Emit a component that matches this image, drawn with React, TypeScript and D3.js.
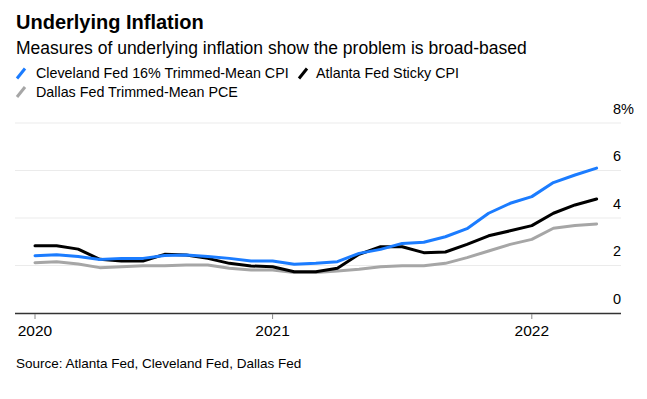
import React from "react";
import * as d3 from "d3";

const months = [
  "2020-02", "2020-03", "2020-04", "2020-05", "2020-06", "2020-07", "2020-08", "2020-09", "2020-10", "2020-11", "2020-12",
  "2021-01", "2021-02", "2021-03", "2021-04", "2021-05", "2021-06", "2021-07", "2021-08", "2021-09", "2021-10", "2021-11", "2021-12",
  "2022-01", "2022-02", "2022-03", "2022-04",
];

const cleveland = [2.41, 2.45, 2.38, 2.25, 2.3, 2.3, 2.42, 2.44, 2.38, 2.3, 2.19, 2.19, 2.05, 2.09, 2.16, 2.51, 2.68, 2.93, 2.98, 3.21, 3.55, 4.2, 4.62, 4.9, 5.49, 5.81, 6.1];
const atlanta = [2.83, 2.83, 2.69, 2.26, 2.19, 2.19, 2.47, 2.44, 2.3, 2.09, 1.98, 1.95, 1.74, 1.74, 1.88, 2.47, 2.79, 2.79, 2.54, 2.57, 2.89, 3.25, 3.46, 3.68, 4.2, 4.55, 4.8];
const dallas = [2.12, 2.16, 2.06, 1.91, 1.95, 1.99, 1.99, 2.02, 2.02, 1.88, 1.81, 1.81, 1.71, 1.71, 1.77, 1.84, 1.95, 1.99, 1.99, 2.09, 2.33, 2.61, 2.89, 3.1, 3.57, 3.68, 3.75];

const xTicks = ["2020-02", "2021-01", "2022-01"];
const xTickLabels = ["2020", "2021", "2022"];
const yTicks = [0, 2, 4, 6, 8];

const series = [
  { name: "Dallas Fed Trimmed-Mean PCE", values: dallas, color: "#a6a6a6" },
  { name: "Atlanta Fed Sticky CPI", values: atlanta, color: "#000000" },
  { name: "Cleveland Fed 16% Trimmed-Mean CPI", values: cleveland, color: "#1b7cff" },
];

const W = 647;
const H = 399;
const FONT = "'Liberation Sans', Arial, Helvetica, sans-serif";

export default function App() {
  const x = d3.scalePoint<string>().domain(months).range([35, 596.6]);
  const y = d3.scaleLinear().domain([0, 8]).range([313, 123]);
  const line = d3
    .line<number>()
    .x((_, i) => x(months[i]) as number)
    .y((d) => y(d));

  const gridLeft = 15;
  const gridRight = 621;

  return (
    <svg
      width={W}
      height={H}
      style={{ position: "absolute", left: 0, top: 0, background: "#fff" }}
      fontFamily={FONT}
    >
      <text x={16} y={28.5} fontSize={20} fontWeight="bold" fill="#000">
        Underlying Inflation
      </text>
      <text x={16} y={53.5} fontSize={17.5} fill="#000">
        Measures of underlying inflation show the problem is broad-based
      </text>

      {/* legend */}
      <line x1={17} y1={78.5} x2={25} y2={68.5} stroke="#1b7cff" strokeWidth={3} />
      <text x={36} y={78} fontSize={14.3} fill="#000">Cleveland Fed 16% Trimmed-Mean CPI</text>
      <line x1={299} y1={78.5} x2={307} y2={68.5} stroke="#000" strokeWidth={3} />
      <text x={316} y={78} fontSize={14.3} fill="#000">Atlanta Fed Sticky CPI</text>
      <line x1={17} y1={97} x2={25} y2={87} stroke="#a6a6a6" strokeWidth={3} />
      <text x={36} y={96.5} fontSize={14.3} fill="#000">Dallas Fed Trimmed-Mean PCE</text>

      {/* gridlines and y labels */}
      {yTicks.map((t) => (
        <g key={t}>
          {t !== 0 && (
            <line x1={gridLeft} x2={gridRight} y1={y(t)} y2={y(t)} stroke="#ebebeb" strokeWidth={1} />
          )}
          <text x={613} y={y(t) - 9.5} fontSize={14.5} fill="#000">
            {t === 8 ? "8%" : String(t)}
          </text>
        </g>
      ))}

      {/* lines */}
      {series.map((s) => (
        <path
          key={s.name}
          d={line(s.values) || ""}
          fill="none"
          stroke={s.color}
          strokeWidth={3}
          strokeLinejoin="round"
          strokeLinecap="round"
        />
      ))}

      {/* x axis */}
      <line x1={gridLeft} x2={gridRight} y1={313.5} y2={313.5} stroke="#333" strokeWidth={1.3} />
      {xTicks.map((t, i) => (
        <g key={t}>
          <line x1={x(t)} x2={x(t)} y1={314} y2={319} stroke="#888" strokeWidth={1} />
          <text x={x(t)} y={336} fontSize={15.5} textAnchor="middle" fill="#000">
            {xTickLabels[i]}
          </text>
        </g>
      ))}

      <text x={16} y={368} fontSize={13.5} fill="#000">
        Source: Atlanta Fed, Cleveland Fed, Dallas Fed
      </text>
    </svg>
  );
}
